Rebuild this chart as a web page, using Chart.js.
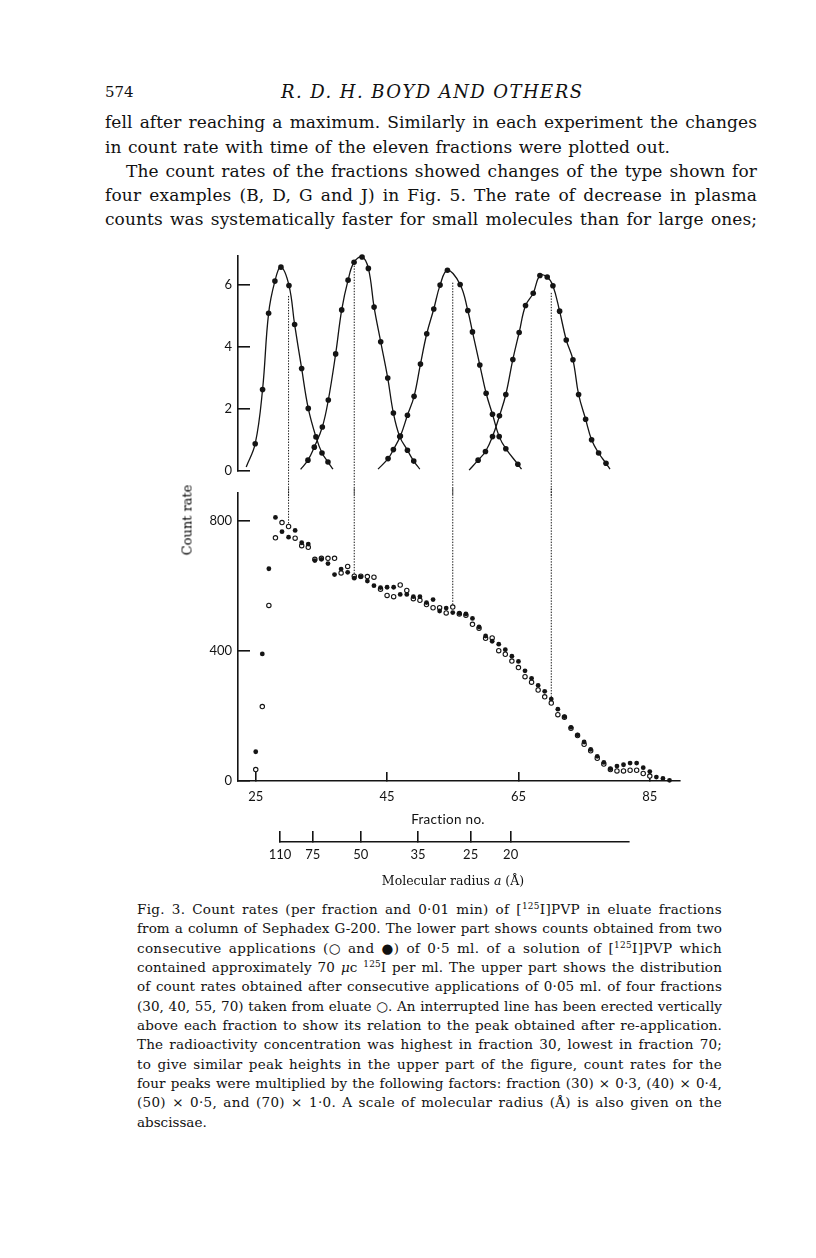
<!DOCTYPE html>
<html><head><meta charset="utf-8">
<script src="https://cdn.jsdelivr.net/npm/chart.js@4.4.1/dist/chart.umd.min.js"></script>
<style>
html,body{margin:0;padding:0;background:#fff;}
body{width:816px;height:1258px;position:relative;overflow:hidden;color:#111;font-family:'DejaVu Serif',serif;}
.abs{position:absolute;}
.line{white-space:nowrap;display:block;}
.sup{font-size:0.66em;position:relative;top:-0.5em;line-height:0;}
canvas{position:absolute;}
</style></head><body>

<div class="abs" style="left:105px;top:85px;font-size:15px;line-height:15px;">574</div>
<div class="abs" id="runhead" style="left:281px;top:82.5px;font-size:18px;line-height:18px;font-style:italic;white-space:nowrap;">R. D. H. BOYD AND OTHERS</div>

<div class="abs" id="bodytext" style="left:105px;top:110.3px;width:652px;font-size:17px;line-height:24.3px;">
<div class="line j">fell after reaching a maximum. Similarly in each experiment the changes</div>
<div class="line" id="shortline">in count rate with time of the eleven fractions were plotted out.</div>
<div class="line j" style="padding-left:21px;">The count rates of the fractions showed changes of the type shown for</div>
<div class="line j">four examples (B, D, G and J) in Fig. 5. The rate of decrease in plasma</div>
<div class="line j">counts was systematically faster for small molecules than for large ones;</div>
</div>

<canvas id="upper" width="560" height="260" style="left:150px;top:240px;"></canvas>
<canvas id="lower" width="560" height="345" style="left:150px;top:485px;"></canvas>
<canvas id="radius" width="560" height="55" style="left:150px;top:820px;"></canvas>

<div class="abs" style="left:186.7px;top:520px;transform:translate(-50%,-50%) rotate(-90deg);font-size:13px;white-space:nowrap;color:#000;">Count rate</div>
<div class="abs" style="left:448px;top:819px;transform:translate(-50%,-50%);font-family:Lato,sans-serif;font-size:13.5px;letter-spacing:0.3px;white-space:nowrap;">Fraction no.</div>
<div class="abs" style="left:453px;top:880px;transform:translate(-50%,-50%);font-size:12.5px;white-space:nowrap;">Molecular radius <i>a</i> (Å)</div>

<div class="abs" id="caption" style="left:137px;top:899.8px;width:585px;font-size:13.5px;line-height:19.36px;">
<div class="line j">Fig. 3. Count rates (per fraction and 0·01 min) of [<span class="sup">125</span>I]PVP in eluate fractions</div>
<div class="line j">from a column of Sephadex G-200. The lower part shows counts obtained from two</div>
<div class="line j">consecutive applications (○ and ●) of 0·5 ml. of a solution of [<span class="sup">125</span>I]PVP which</div>
<div class="line j">contained approximately 70 <i>μ</i>c <span class="sup">125</span>I per ml. The upper part shows the distribution</div>
<div class="line j">of count rates obtained after consecutive applications of 0·05 ml. of four fractions</div>
<div class="line j">(30, 40, 55, 70) taken from eluate ○. An interrupted line has been erected vertically</div>
<div class="line j">above each fraction to show its relation to the peak obtained after re-application.</div>
<div class="line j">The radioactivity concentration was highest in fraction 30, lowest in fraction 70;</div>
<div class="line j">to give similar peak heights in the upper part of the figure, count rates for the</div>
<div class="line j">four peaks were multiplied by the following factors: fraction (30) × 0·3, (40) × 0·4,</div>
<div class="line j">(50) × 0·5, and (70) × 1·0. A scale of molecular radius (Å) is also given on the</div>
<div class="line">abscissae.</div>
</div>

<script>
// ---------------- data ----------------
// Lower part: count rate per fraction for two consecutive applications
const fractions = [25,26,27,28,29,30,31,32,33,34,35,36,37,38,39,40,41,42,43,44,45,46,47,48,49,50,51,52,53,54,55,56,57,58,59,60,61,62,63,64,65,66,67,68,69,70,71,72,73,74,75,76,77,78,79,80,81,82,83,84,85,86,87,88];
const openCounts = [35,229,540,748,795,783,747,724,719,682,685,685,685,640,660,630,630,629,627,590,571,567,603,586,561,556,543,533,533,517,535,514,510,482,470,439,440,401,390,369,349,321,304,280,259,240,204,196,162,140,113,93,70,52,35,31,31,33,33,23,15,null,null,null];
const filledCounts = [90,391,653,811,767,750,771,733,729,678,682,669,635,652,642,624,628,615,601,595,596,596,574,574,567,567,549,558,523,532,518,516,514,500,474,446,430,421,404,384,368,339,316,294,276,252,221,198,165,142,120,97,76,57,38,46,50,55,55,41,29,12,8,2];

// Upper part: re-applied fractions (curve start, dots..., curve end)
const peak30X = [23.55,24.92,26.04,26.96,27.92,28.84,30.06,30.92,31.99,33.0,34.17,35.09,36.0,36.76];
const peak30Y = [0.13,0.88,2.63,5.09,6.13,6.58,5.99,4.73,3.31,2.02,1.10,0.58,0.29,0.06];
const peak40X = [31.83,32.95,33.92,35.14,36.05,37.17,38.09,39.06,39.97,41.19,42.15,43.02,44.03,45.1,45.96,46.93,48.1,49.06,49.98];
const peak40Y = [0.05,0.35,0.77,1.42,2.29,3.78,5.20,6.16,6.74,6.91,6.54,5.29,4.17,3.0,1.87,1.11,0.67,0.32,0.06];
const peak55X = [43.62,45.15,45.96,47.03,48.1,49.11,50.08,51.04,52.11,53.07,54.19,56.12,57.29,58.0,59.12,60.08,61.05,62.07,63.08,64.91,65.47];
const peak55Y = [0.06,0.40,0.69,1.13,1.80,2.41,3.45,4.43,5.23,6.0,6.48,6.02,5.18,4.49,3.42,2.51,1.83,1.11,0.72,0.22,0.06];
const peak70X = [57.49,58.86,59.98,61.05,62.11,63.08,64.15,65.11,66.08,67.25,68.27,69.38,70.25,71.27,72.28,73.3,74.16,75.23,76.14,77.21,78.33,78.94];
const peak70Y = [0.03,0.35,0.63,1.11,1.78,2.47,3.60,4.47,5.34,5.74,6.31,6.26,5.98,5.16,4.23,3.59,2.47,1.67,1.01,0.58,0.25,0.06];

// Interrupted lines: fractions and the height on the upper curve where they start
const markedFractions = [30,40,55,70];
const markedUpper = [5.65,6.72,6.08,5.75];

// Tick labels
const upperTicks = [0,2,4,6];
const lowerTicks = [0,400,800];
const fractionTicks = [25,45,65,85];
const radiusLabels = [110,75,50,35,25,20];
const radiusAtFraction = [28.69,33.67,40.98,49.7,57.72,63.81];

// ---------------- text fitting ----------------
function fitLine(el, target, letterShare){
  el.style.display='inline-block'; el.style.wordSpacing='0px'; el.style.letterSpacing='0px';
  let w = el.getBoundingClientRect().width;
  const txt = el.textContent;
  const n = (txt.match(/ /g)||[]).length;
  const extra = target - w;
  el.style.letterSpacing = (extra*letterShare/txt.length).toFixed(3)+'px';
  w = el.getBoundingClientRect().width;
  if(n) el.style.wordSpacing = ((target - w)/n).toFixed(3)+'px';
  el.style.display='block';
}
document.querySelectorAll('#bodytext .j').forEach(el=>fitLine(el,652,0.25));
document.querySelectorAll('#caption .j').forEach(el=>fitLine(el,585,0.45));
fitLine(document.getElementById('shortline'),565,0.25);
(function(){
  const el=document.getElementById('runhead');
  el.style.display='inline-block';
  const w=el.getBoundingClientRect().width, n=el.textContent.length;
  el.style.letterSpacing=((301-w)/(n-1)).toFixed(2)+'px';
})();

// ---------------- charts ----------------
const INK = '#141414';
const tickFont = {family:'Lato', size:13};
const XMIN = 22.3, XMAX = 89.6;
const common = {animation:false, responsive:false, devicePixelRatio:1, events:[],
  plugins:{legend:{display:false}, tooltip:{enabled:false}}};
const noPad = s=>{ s.paddingTop=0; s.paddingBottom=0; s.paddingLeft=0; s.paddingRight=0; };

function yAxis(min,max,ticks){
  return {type:'linear', min:min, max:max, position:'left',
    afterFit: s=>{ s.width = 88; noPad(s); },
    afterBuildTicks: s=>{ s.ticks = ticks.map(v=>({value:v})); },
    grid:{drawOnChartArea:false, drawTicks:true, tickLength:-12, color:INK, lineWidth:1.6},
    border:{display:true, color:INK, width:1.6},
    ticks:{padding:18, font:tickFont, color:INK}};
}

const toPts = (xs,ys)=>xs.map((x,i)=>({x:x,y:ys[i]}));
const peakDS = (xs,ys)=>({data:toPts(xs,ys), showLine:true, borderColor:INK, borderWidth:1.3,
  tension:0.4, clip:false, pointBackgroundColor:INK, pointBorderWidth:0,
  pointRadius: c=> (c.dataIndex===0 || c.dataIndex===c.dataset.data.length-1) ? 0 : 2.8});
const dotDS = (pts)=>({data:pts, showLine:true, borderColor:INK, borderWidth:1, borderDash:[1.4,1.4],
  pointRadius:0, clip:false, tension:0});

new Chart(document.getElementById('upper'), {
  type:'scatter',
  data:{datasets:[
    peakDS(peak30X,peak30Y), peakDS(peak40X,peak40Y), peakDS(peak55X,peak55Y), peakDS(peak70X,peak70Y),
    ...markedFractions.map((f,i)=>dotDS([{x:f,y:markedUpper[i]},{x:f,y:-0.8}]))
  ]},
  options:Object.assign({}, common, {
    layout:{autoPadding:false, padding:{top:16,right:30,bottom:29,left:0}},
    scales:{
      x:{type:'linear', min:XMIN, max:XMAX, display:false},
      y:yAxis(0,6.94,upperTicks)
    }})
});

new Chart(document.getElementById('lower'), {
  type:'scatter',
  data:{datasets:[
    {data:fractions.map((f,i)=>({x:f,y:filledCounts[i]})).filter(p=>p.y!==null),
      pointRadius:2.4, pointBackgroundColor:INK, pointBorderWidth:0, clip:false},
    {data:fractions.map((f,i)=>({x:f,y:openCounts[i]})).filter(p=>p.y!==null),
      pointRadius:2.2, pointBackgroundColor:'#fff', pointBorderColor:INK, pointBorderWidth:1.1, clip:false},
    ...markedFractions.map(f=>dotDS([{x:f,y:900},{x:f,y:openCounts[fractions.indexOf(f)]+7}]))
  ]},
  options:Object.assign({}, common, {
    layout:{autoPadding:false, padding:{top:8,right:30,bottom:0,left:0}},
    scales:{
      x:{type:'linear', min:XMIN, max:XMAX, position:'bottom',
        afterFit: s=>{ s.height = 49; noPad(s); },
        afterBuildTicks: s=>{ s.ticks = fractionTicks.map(v=>({value:v})); },
        grid:{drawOnChartArea:false, tickLength:-9, color:INK, lineWidth:1.6},
        border:{display:true, color:INK, width:1.6},
        ticks:{padding:17, font:tickFont, color:INK, maxRotation:0}},
      y:yAxis(0,886,lowerTicks)
    }})
});

new Chart(document.getElementById('radius'), {
  type:'scatter',
  data:{datasets:[]},
  options:Object.assign({}, common, {
    layout:{autoPadding:false, padding:{top:5,right:81,bottom:0,left:130}},
    scales:{
      x:{type:'linear', min:28.69, max:81.83, position:'bottom',
        afterFit: s=>{ s.height = 33; noPad(s); },
        afterBuildTicks: s=>{ s.ticks = radiusAtFraction.map(v=>({value:v})); },
        grid:{drawOnChartArea:false, tickLength:-11, color:INK, lineWidth:1.6},
        border:{display:true, color:INK, width:1.6},
        ticks:{padding:16, font:tickFont, color:INK, maxRotation:0, autoSkip:false,
          callback:(v,i)=>radiusLabels[i]}},
      y:{display:false, min:0, max:1}
    }})
});
</script>
</body></html>
